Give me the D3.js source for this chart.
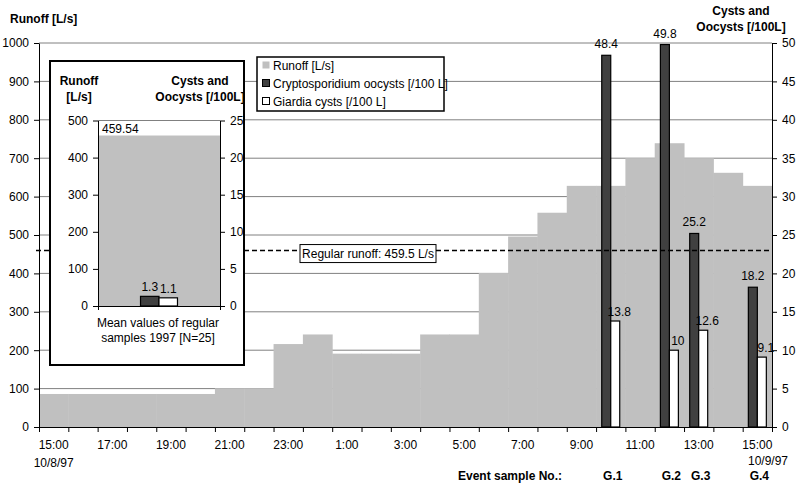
<!DOCTYPE html>
<html>
<head>
<meta charset="utf-8">
<script src="https://cdn.jsdelivr.net/npm/d3@7"></script>
<style>
  html, body { margin: 0; padding: 0; background: #fff; overflow: hidden; }
  svg { display: block; font-family: "Liberation Sans", Arial, sans-serif; font-size: 12px; }
  .axis path, .axis line { stroke: #000; }
  .axis text { font-size: 12px; fill: #000; }
  .bold { font-weight: bold; }
</style>
</head>
<body>
<div id="chart"></div>
<script>
// hourly categories, 15:00 10/8/97 .. 15:00 10/9/97
const hourLabels = ['15:00','16:00','17:00','18:00','19:00','20:00','21:00','22:00','23:00','0:00',
  '1:00','2:00','3:00','4:00','5:00','6:00','7:00','8:00','9:00','10:00',
  '11:00','12:00','13:00','14:00','15:00'];
// runoff [L/s] per hour
const runoff = [86,86,86,86,86,86,101,101,216,241,191,191,191,241,241,401,496,558,628,628,700,739,700,662,628];

// event samples
const eventNames = ['G.1','G.2','G.3','G.4'];
const eventHours = [19,21,22,24];
const crypto = [48.4,49.8,25.2,18.2];
const giardia = [13.8,10,12.6,9.1];

// regular samples 1997 (inset)
const regularRunoff = 459.54;
const regularCrypto = 1.3;
const regularGiardia = 1.1;
const regularLine = 459.5;

const leftTicks = d3.range(0, 1001, 100);
const rightTicks = d3.range(0, 51, 5);

const width = 800, height = 486;
const margin = {top: 43, right: 28, bottom: 59, left: 39};
const innerWidth = width - margin.left - margin.right;
const innerHeight = height - margin.top - margin.bottom;

const grey = '#c0c0c0', dark = '#404040';

const svg = d3.select('#chart').append('svg')
  .attr('width', width).attr('height', height);
const g = svg.append('g').attr('transform', 'translate(' + margin.left + ',' + margin.top + ')');

const idx = hourLabels.map((d, i) => i);
let xScale = d3.scaleBand().domain(idx).range([0, innerWidth]).padding(0);
let xTick = d3.scaleLinear().domain([0, idx.length]).range([0, innerWidth]);
let pair = d3.scaleBand().domain(['c','g']).range([0, xScale.bandwidth()]).paddingInner(0).paddingOuter(0.63);
let yLeft = d3.scaleLinear().domain([0, 1000]).range([innerHeight, 0]);
let yRight = d3.scaleLinear().domain([0, 50]).range([innerHeight, 0]);

// gridlines
g.selectAll('.grid').data(leftTicks.slice(1))
  .join('line').attr('class', 'grid')
  .attr('x1', 0).attr('x2', innerWidth)
  .attr('y1', d => yLeft(d)).attr('y2', d => yLeft(d))
  .attr('stroke', '#808080').attr('stroke-width', 1);

// runoff steps
g.selectAll('.runoff').data(runoff)
  .join('rect').attr('class', 'runoff')
  .attr('x', (d, i) => xScale(i))
  .attr('width', xScale.bandwidth() + 0.5)
  .attr('y', d => yLeft(d))
  .attr('height', d => yLeft(0) - yLeft(d))
  .attr('fill', grey);

// cyst bars
const ev = eventNames.map((n, i) => ({name: n, hour: eventHours[i], c: crypto[i], g: giardia[i]}));
g.selectAll('.crypto').data(ev)
  .join('rect').attr('class', 'crypto')
  .attr('x', d => xScale(d.hour) + pair('c'))
  .attr('width', pair.bandwidth())
  .attr('y', d => yRight(d.c))
  .attr('height', d => yRight(0) - yRight(d.c))
  .attr('fill', dark).attr('stroke', '#000').attr('stroke-width', 1.2);
g.selectAll('.giardia').data(ev)
  .join('rect').attr('class', 'giardia')
  .attr('x', d => xScale(d.hour) + pair('g'))
  .attr('width', pair.bandwidth())
  .attr('y', d => yRight(d.g))
  .attr('height', d => yRight(0) - yRight(d.g))
  .attr('fill', '#fff').attr('stroke', '#000').attr('stroke-width', 1.2);

g.selectAll('.clab').data(ev)
  .join('text').attr('class', 'clab')
  .attr('x', d => xScale(d.hour) + pair('c') + pair.bandwidth() / 2)
  .attr('y', d => yRight(d.c) - 7)
  .attr('text-anchor', 'middle')
  .text(d => d.c);
g.selectAll('.glab').data(ev)
  .join('text').attr('class', 'glab')
  .attr('x', d => xScale(d.hour) + pair('g') + pair.bandwidth() / 2 + 4)
  .attr('y', d => yRight(d.g) - 5)
  .attr('text-anchor', 'middle')
  .text(d => d.g);

// regular runoff line
g.append('line')
  .attr('x1', -3).attr('x2', innerWidth)
  .attr('y1', yLeft(regularLine)).attr('y2', yLeft(regularLine))
  .attr('stroke', '#000').attr('stroke-width', 1.6).attr('stroke-dasharray', '5,3');
const lab = g.append('g').attr('transform', 'translate(' + (368 - margin.left) + ',' + (yLeft(regularLine) + 3) + ')');
lab.append('rect').attr('x', -68).attr('y', -9).attr('width', 136).attr('height', 18)
  .attr('fill', '#fff').attr('stroke', '#000').attr('stroke-width', 1);
lab.append('text').attr('text-anchor', 'middle').attr('y', 4).text('Regular runoff: ' + regularLine + ' L/s');

// axes
const xAxis = d3.axisBottom(xScale).tickSize(0).tickPadding(13)
  .tickValues(idx.filter(i => i % 2 === 0))
  .tickFormat(i => hourLabels[i]);
g.append('g').attr('class', 'x-axis axis')
  .attr('transform', 'translate(0,' + innerHeight + ')')
  .call(xAxis)
  .call(s => s.select('.domain').remove());
g.append('g').attr('class', 'x-ticks axis')
  .attr('transform', 'translate(0,' + innerHeight + ')')
  .call(d3.axisBottom(xTick).ticks(idx.length).tickSize(5).tickSizeOuter(0))
  .call(s => s.selectAll('text').remove());

g.append('g').attr('class', 'y-axis axis')
  .call(d3.axisLeft(yLeft).tickValues(leftTicks).tickFormat(d3.format('d'))
    .tickSize(5).tickSizeOuter(0).tickPadding(5));
g.append('g').attr('class', 'y-axis-right axis')
  .attr('transform', 'translate(' + innerWidth + ',0)')
  .call(d3.axisRight(yRight).tickValues(rightTicks).tickSize(5).tickSizeOuter(0).tickPadding(5));

svg.selectAll('.axis text').attr('fill', '#000');

// axis titles and date labels
svg.append('text').attr('class', 'bold').attr('x', 10).attr('y', 23).text('Runoff [L/s]');
svg.append('text').attr('class', 'bold').attr('x', 741).attr('y', 15).attr('text-anchor', 'middle').text('Cysts and');
svg.append('text').attr('class', 'bold').attr('x', 741).attr('y', 31).attr('text-anchor', 'middle').text('Oocysts [/100L]');
svg.append('text').attr('x', margin.left + xScale(0) + xScale.bandwidth() / 2).attr('y', 467)
  .attr('text-anchor', 'middle').text('10/8/97');
svg.append('text').attr('x', 788).attr('y', 465).attr('text-anchor', 'end').text('10/9/97');
svg.append('text').attr('class', 'bold').attr('x', 562).attr('y', 480).attr('text-anchor', 'end').text('Event sample No.:');
svg.selectAll('.evlab').data(ev)
  .join('text').attr('class', 'evlab bold')
  .attr('x', d => margin.left + xScale(d.hour) + xScale.bandwidth() / 2 + 2)
  .attr('y', 480).attr('text-anchor', 'middle')
  .text(d => d.name);

// legend
const legendItems = [
  {label: 'Runoff [L/s]', fill: grey, stroke: 'none'},
  {label: 'Cryptosporidium oocysts [/100 L]', fill: dark, stroke: '#000'},
  {label: 'Giardia cysts [/100 L]', fill: '#fff', stroke: '#000'}
];
const legend = svg.append('g').attr('transform', 'translate(257,57)');
legend.append('rect').attr('width', 187).attr('height', 54)
  .attr('fill', '#fff').attr('stroke', '#000').attr('stroke-width', 1.5);
const li = legend.selectAll('.li').data(legendItems).join('g').attr('class', 'li')
  .attr('transform', (d, i) => 'translate(5,' + (8 + i * 18) + ')');
li.append('rect').attr('x', 0.5).attr('y', -3.5).attr('width', 7).attr('height', 7)
  .attr('fill', d => d.fill).attr('stroke', d => d.stroke);
li.append('text').attr('x', 11).attr('y', 4.5).text(d => d.label);

// inset: mean values of regular samples
const inset = svg.append('g');
inset.append('rect').attr('x', 50).attr('y', 61).attr('width', 194).attr('height', 304)
  .attr('fill', '#fff').attr('stroke', '#000').attr('stroke-width', 2);
const ix0 = 98, ix1 = 220, iy0 = 120.5, iy1 = 306;
let iyLeft = d3.scaleLinear().domain([0, 500]).range([iy1, iy0]);
let iyRight = d3.scaleLinear().domain([0, 25]).range([iy1, iy0]);
let ixScale = d3.scaleBand().domain(['regular']).range([ix0, ix1]).padding(0);
let ipair = d3.scaleBand().domain(['c','g']).range([ix0, ix1]).paddingInner(0).paddingOuter(2.3);

inset.append('rect').attr('x', ixScale('regular')).attr('width', ixScale.bandwidth())
  .attr('y', iyLeft(regularRunoff)).attr('height', iyLeft(0) - iyLeft(regularRunoff))
  .attr('fill', grey);
inset.append('line').attr('x1', ix0).attr('x2', ix1).attr('y1', iy0).attr('y2', iy0)
  .attr('stroke', '#808080');
inset.append('rect').attr('x', ipair('c')).attr('width', ipair.bandwidth())
  .attr('y', iyRight(regularCrypto)).attr('height', iyRight(0) - iyRight(regularCrypto))
  .attr('fill', dark).attr('stroke', '#000').attr('stroke-width', 1.2);
inset.append('rect').attr('x', ipair('g')).attr('width', ipair.bandwidth())
  .attr('y', iyRight(regularGiardia)).attr('height', iyRight(0) - iyRight(regularGiardia))
  .attr('fill', '#fff').attr('stroke', '#000').attr('stroke-width', 1.2);
inset.append('text').attr('x', 102).attr('y', iyLeft(regularRunoff) - 3).text(regularRunoff);
inset.append('text').attr('x', ipair('c') + ipair.bandwidth() / 2).attr('y', iyRight(regularCrypto) - 5)
  .attr('text-anchor', 'middle').text(regularCrypto);
inset.append('text').attr('x', ipair('g') + ipair.bandwidth() / 2).attr('y', iyRight(regularGiardia) - 5)
  .attr('text-anchor', 'middle').text(regularGiardia);

inset.append('g').attr('class', 'axis').attr('transform', 'translate(' + ix0 + ',0)')
  .call(d3.axisLeft(iyLeft).tickValues(d3.range(0, 501, 100)).tickSize(5).tickSizeOuter(0).tickPadding(5));
inset.append('g').attr('class', 'axis').attr('transform', 'translate(' + ix1 + ',0)')
  .call(d3.axisRight(iyRight).tickValues(d3.range(0, 26, 5)).tickSize(5).tickSizeOuter(0).tickPadding(5));
inset.append('g').attr('class', 'axis').attr('transform', 'translate(0,' + iy1 + ')')
  .call(d3.axisBottom(d3.scaleLinear().domain([0, 1]).range([ix0, ix1])).tickValues([0, 1]).tickSize(4).tickSizeOuter(0))
  .call(s => s.selectAll('text').remove());

inset.append('text').attr('class', 'bold').attr('x', 79).attr('y', 85).attr('text-anchor', 'middle').text('Runoff');
inset.append('text').attr('class', 'bold').attr('x', 79).attr('y', 101).attr('text-anchor', 'middle').text('[L/s]');
inset.append('text').attr('class', 'bold').attr('x', 200).attr('y', 85).attr('text-anchor', 'middle').text('Cysts and');
inset.append('text').attr('class', 'bold').attr('x', 200).attr('y', 101).attr('text-anchor', 'middle').text('Oocysts [/100L]');
inset.append('text').attr('x', 158).attr('y', 327).attr('text-anchor', 'middle').text('Mean values of regular');
inset.append('text').attr('x', 158).attr('y', 342).attr('text-anchor', 'middle').text('samples 1997 [N=25]');
</script>
</body>
</html>
